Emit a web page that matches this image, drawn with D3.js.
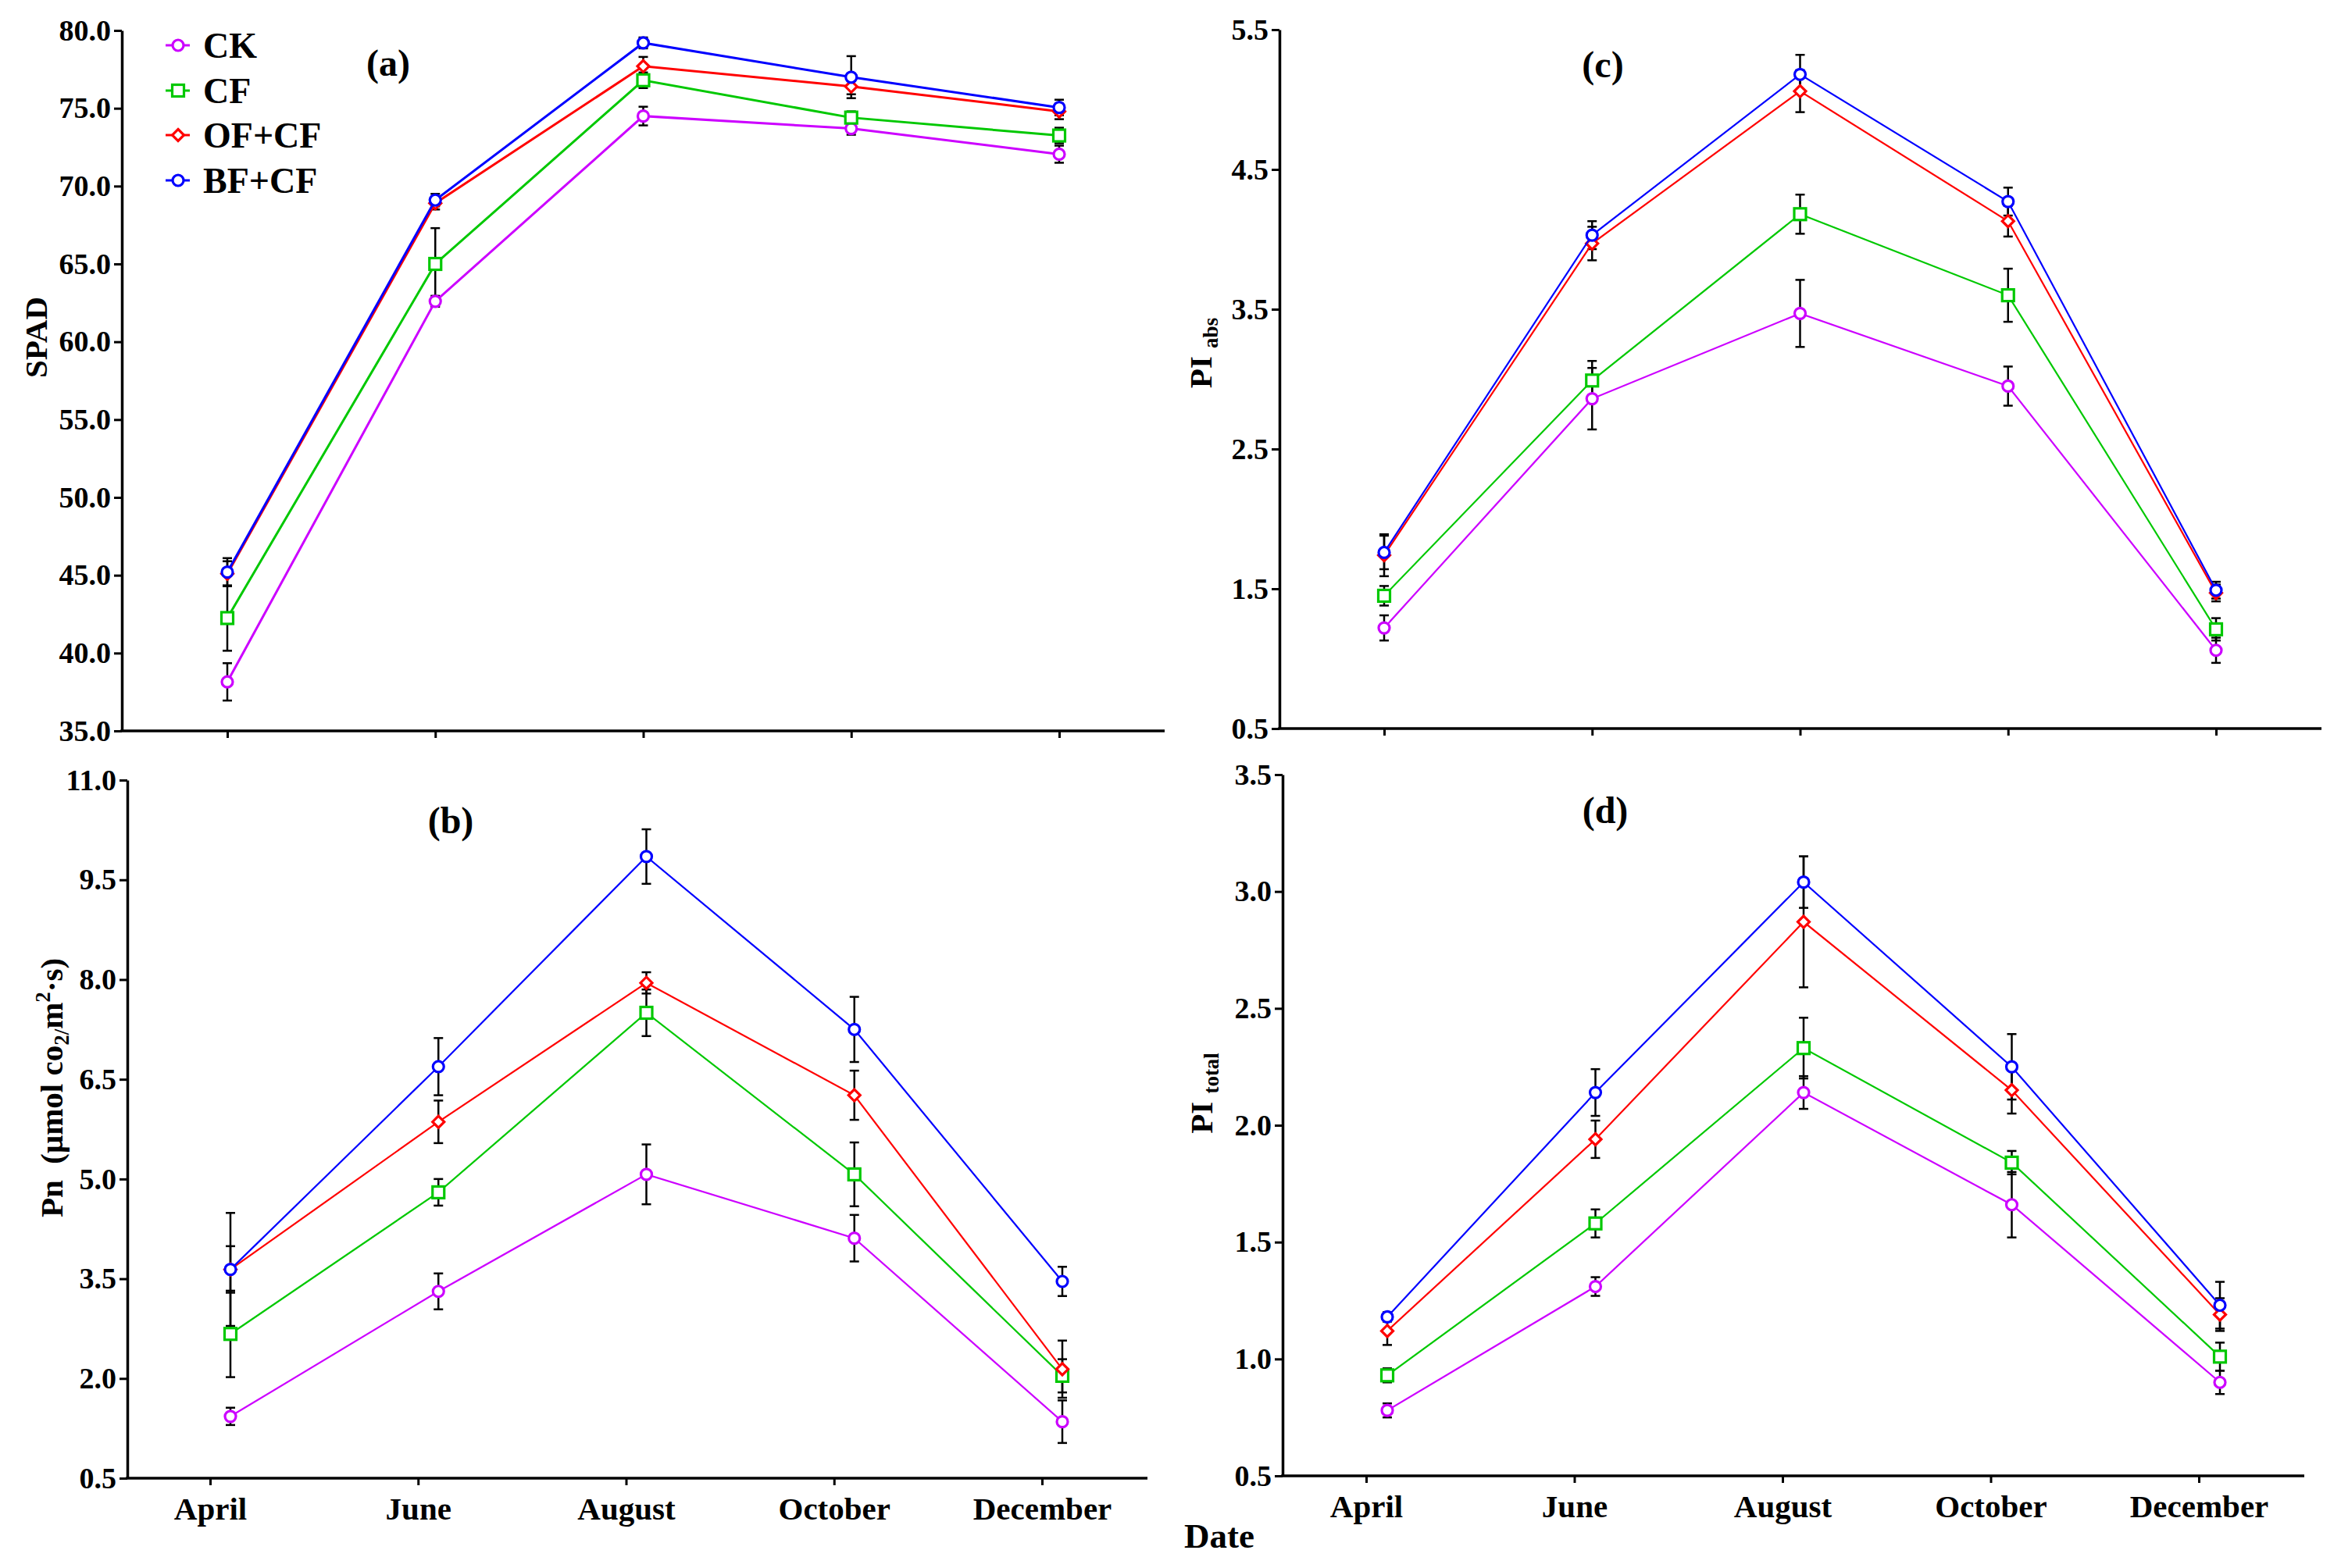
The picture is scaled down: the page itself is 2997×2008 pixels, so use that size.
<!DOCTYPE html>
<html>
<head>
<meta charset="utf-8">
<script src="https://cdn.jsdelivr.net/npm/d3@7"></script>
<style>
  body { margin: 0; background: #fff; }
  text { white-space: pre; }
</style>
</head>
<body>
<div id="chart"></div>
<script>
// ---- data ----
const months = ["April", "June", "August", "October", "December"];
const treatments = ["CK", "CF", "OF+CF", "BF+CF"];
const colors = ["#cc00ff", "#00c800", "#ff0000", "#0000ff"];
const shapes = ["circle", "square", "diamond", "circle"];

// rows follow treatments: CK, CF, OF+CF, BF+CF
const spadMeans = [
  [38.15, 62.6, 74.5, 73.7, 72.05],
  [42.25, 65.0, 76.8, 74.4, 73.25],
  [45.1, 68.9, 77.7, 76.4, 74.8],
  [45.2, 69.1, 79.2, 77.0, 75.05]
];
const spadErr = [
  [1.2, 0.35, 0.6, 0.4, 0.55],
  [2.1, 2.3, 0.5, 0.4, 0.5],
  [0.8, 0.4, 0.6, 0.5, 0.5],
  [0.9, 0.4, 0.35, 1.35, 0.5]
];
const pnMeans = [
  [1.43, 3.31, 5.07, 4.11, 1.35],
  [2.67, 4.8, 7.5, 5.07, 2.04],
  [3.64, 5.86, 7.95, 6.26, 2.14],
  [3.64, 6.69, 9.85, 7.25, 3.46]
];
const pnErr = [
  [0.13, 0.27, 0.45, 0.35, 0.32],
  [0.65, 0.2, 0.35, 0.48, 0.25],
  [0.35, 0.32, 0.16, 0.37, 0.43],
  [0.85, 0.43, 0.41, 0.49, 0.22]
];
const piAbsMeans = [
  [1.22, 2.86, 3.47, 2.95, 1.06],
  [1.45, 2.99, 4.18, 3.6, 1.21],
  [1.74, 3.97, 5.06, 4.13, 1.47],
  [1.76, 4.03, 5.18, 4.27, 1.49]
];
const piAbsErr = [
  [0.09, 0.22, 0.24, 0.14, 0.09],
  [0.07, 0.14, 0.14, 0.19, 0.08],
  [0.15, 0.12, 0.15, 0.11, 0.06],
  [0.12, 0.1, 0.14, 0.1, 0.06]
];
const piTotalMeans = [
  [0.78, 1.31, 2.14, 1.66, 0.9],
  [0.93, 1.58, 2.33, 1.84, 1.01],
  [1.12, 1.94, 2.87, 2.15, 1.19],
  [1.18, 2.14, 3.04, 2.25, 1.23]
];
const piTotalErr = [
  [0.03, 0.04, 0.07, 0.14, 0.05],
  [0.03, 0.06, 0.13, 0.05, 0.06],
  [0.06, 0.08, 0.28, 0.1, 0.07],
  [0.02, 0.1, 0.11, 0.14, 0.1]
];

const spadTicks = [35, 40, 45, 50, 55, 60, 65, 70, 75, 80];
const pnTicks = [0.5, 2.0, 3.5, 5.0, 6.5, 8.0, 9.5, 11.0];
const piAbsTicks = [0.5, 1.5, 2.5, 3.5, 4.5, 5.5];
const piTotalTicks = [0.5, 1.0, 1.5, 2.0, 2.5, 3.0, 3.5];

// ---- setup ----
const width = 2997, height = 2008;
const serif = "'Liberation Serif', 'Times New Roman', serif";
const fmt = d3.format(".1f");

const svg = d3.select("#chart").append("svg")
  .attr("width", width)
  .attr("height", height)
  .style("background", "#fff")
  .attr("font-family", serif)
  .attr("font-weight", "bold");

// layout of each panel (pixels)
const panels = [
  { tag: "(a)", means: spadMeans, errs: spadErr, ticks: spadTicks,
    axisX: 156, axisEnd: 1491, tick0: 291, tick1: 1356, shift: 0,
    top: 39, bottom: 936, monthLabels: false, lw: 3,
    tagPos: [497, 97], titlePos: [60, 432],
    title: [{ t: "SPAD" }], legend: true },
  { tag: "(b)", means: pnMeans, errs: pnErr, ticks: pnTicks,
    axisX: 163, axisEnd: 1469, tick0: 269, tick1: 1334, shift: 26,
    top: 999, bottom: 1893, monthLabels: true, lw: 2.2,
    tagPos: [577, 1067], titlePos: [80, 1393],
    title: [{ t: "Pn  (μmol co" }, { t: "2/", sub: true }, { t: "m" },
            { t: "2", sup: true }, { t: "·s)" }] },
  { tag: "(c)", means: piAbsMeans, errs: piAbsErr, ticks: piAbsTicks,
    axisX: 1638, axisEnd: 2972, tick0: 1772, tick1: 2837, shift: 0,
    top: 38, bottom: 933, monthLabels: false, lw: 2.2,
    tagPos: [2052, 99], titlePos: [1551, 452],
    title: [{ t: "PI " }, { t: "abs", sub: true }] },
  { tag: "(d)", means: piTotalMeans, errs: piTotalErr, ticks: piTotalTicks,
    axisX: 1642, axisEnd: 2950, tick0: 1749, tick1: 2815, shift: 27,
    top: 992, bottom: 1890, monthLabels: true, lw: 2.2,
    tagPos: [2055, 1054], titlePos: [1552, 1400],
    title: [{ t: "PI " }, { t: "total", sub: true }] }
];

function drawMarker(g, shape, color) {
  if (shape === "circle") {
    g.append("circle").attr("r", 7)
      .attr("fill", "#fff").attr("stroke", color).attr("stroke-width", 3.2);
  } else if (shape === "square") {
    g.append("rect").attr("x", -7.5).attr("y", -7.5).attr("width", 15).attr("height", 15)
      .attr("fill", "#fff").attr("stroke", color).attr("stroke-width", 3.2);
  } else {
    g.append("path").attr("d", "M0,-7.5L7.5,0L0,7.5L-7.5,0Z")
      .attr("fill", "#fff").attr("stroke", color).attr("stroke-width", 3.2);
  }
}

panels.forEach(p => {
  const g = svg.append("g");

  const y = d3.scaleLinear()
    .domain(d3.extent(p.ticks))
    .range([p.bottom, p.top]);
  const x = d3.scalePoint()
    .domain(months)
    .range([p.tick0, p.tick1]);

  // y axis
  const yAxis = g.append("g")
    .attr("transform", `translate(${p.axisX},0)`)
    .call(d3.axisLeft(y).tickValues(p.ticks).tickFormat(fmt)
      .tickSize(10).tickSizeOuter(0).tickPadding(4))
    .attr("font-family", serif)
    .attr("font-size", 38)
    .attr("font-weight", "bold");
  yAxis.select(".domain").attr("stroke-width", 3.5);
  yAxis.selectAll(".tick line").attr("stroke-width", 3);

  // x axis
  const xAxis = g.append("g")
    .attr("transform", `translate(0,${p.bottom})`)
    .call(d3.axisBottom(x).tickSize(9).tickSizeOuter(0).tickPadding(15)
      .tickFormat(p.monthLabels ? d => d : ""))
    .attr("font-family", serif)
    .attr("font-size", 41)
    .attr("font-weight", "bold");
  xAxis.select(".domain").remove();
  xAxis.selectAll(".tick line").attr("stroke-width", 3);
  xAxis.append("line")
    .attr("x1", p.axisX - 1.75).attr("x2", p.axisEnd)
    .attr("stroke", "#000").attr("stroke-width", 3.5);

  const px = m => x(m) + p.shift;

  // error bars
  p.means.forEach((row, si) => {
    const eg = g.append("g").attr("stroke", "#000").attr("stroke-width", 2.5);
    row.forEach((v, i) => {
      const cx = px(months[i]);
      const e = p.errs[si][i];
      const y1 = y(v + e), y2 = y(v - e);
      eg.append("line").attr("x1", cx).attr("x2", cx).attr("y1", y1).attr("y2", y2);
      eg.append("line").attr("x1", cx - 6).attr("x2", cx + 6).attr("y1", y1).attr("y2", y1);
      eg.append("line").attr("x1", cx - 6).attr("x2", cx + 6).attr("y1", y2).attr("y2", y2);
    });
  });

  // lines and markers
  const line = d3.line().x((d, i) => px(months[i])).y(d => y(d));
  p.means.forEach((row, si) => {
    g.append("path")
      .datum(row)
      .attr("d", line)
      .attr("fill", "none")
      .attr("stroke", colors[si])
      .attr("stroke-width", p.lw);
    row.forEach((v, i) => {
      const mg = g.append("g").attr("transform", `translate(${px(months[i])},${y(v)})`);
      drawMarker(mg, shapes[si], colors[si]);
    });
  });

  // panel tag
  g.append("text")
    .attr("x", p.tagPos[0]).attr("y", p.tagPos[1])
    .attr("text-anchor", "middle")
    .attr("font-size", 48)
    .text(p.tag);

  // y title
  const title = g.append("text")
    .attr("transform", `translate(${p.titlePos[0]},${p.titlePos[1]}) rotate(-90)`)
    .attr("text-anchor", "middle")
    .attr("font-size", 41);
  p.title.forEach((part, i) => {
    const ts = title.append("tspan").text(part.t);
    const prev = p.title[i - 1];
    if (part.sub) ts.attr("font-size", 27).attr("dy", 8);
    else if (part.sup) ts.attr("font-size", 27).attr("dy", -16);
    else if (prev && prev.sub) ts.attr("dy", -8);
    else if (prev && prev.sup) ts.attr("dy", 16);
  });

  // legend
  if (p.legend) {
    const rows = [58, 116, 173, 231];
    treatments.forEach((name, si) => {
      const lg = g.append("g").attr("transform", `translate(0,${rows[si]})`);
      lg.append("line").attr("x1", 212).attr("x2", 243)
        .attr("stroke", colors[si]).attr("stroke-width", 3);
      const mg = lg.append("g").attr("transform", "translate(228,0)");
      drawMarker(mg, shapes[si], colors[si]);
      lg.append("text").attr("x", 260).attr("dy", "0.35em")
        .attr("font-size", 46).text(name);
    });
  }
});

// shared x title
svg.append("text")
  .attr("x", 1516).attr("y", 1982)
  .attr("font-size", 45)
  .text("Date");
</script>
</body>
</html>
